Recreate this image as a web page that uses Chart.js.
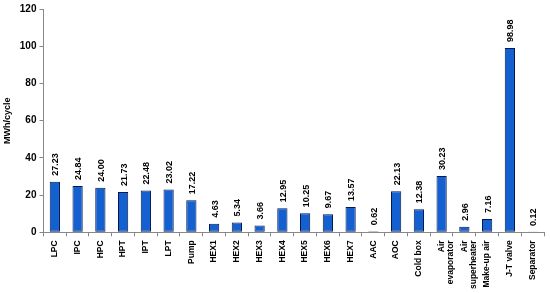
<!DOCTYPE html>
<html>
<head>
<meta charset="utf-8">
<script src="https://cdn.jsdelivr.net/npm/chart.js@4"></script>
<style>
  html, body { margin: 0; padding: 0; background: #fff; }
  #wrap { width: 550px; height: 293px; }
</style>
</head>
<body>
<div id="wrap"><canvas id="barChart"></canvas></div>
<script>
const categories = [
  "LPC", "IPC", "HPC", "HPT", "IPT", "LPT", "Pump",
  "HEX1", "HEX2", "HEX3", "HEX4", "HEX5", "HEX6", "HEX7",
  "AAC", "AOC", "Cold box", ["Air", "evaporator"], ["Air", "superheater"],
  "Make-up air", "J-T valve", "Separator"
];
const exergyValues = [
  27.23, 24.84, 24.00, 21.73, 22.48, 23.02, 17.22,
  4.63, 5.34, 3.66, 12.95, 10.25, 9.67, 13.57,
  0.62, 22.13, 12.38, 30.23, 2.96, 7.16, 98.98, 0.12
];
const yTicks = [0, 20, 40, 60, 80, 100, 120];

// writes the value above each bar, turned on its side
const valueLabels = {
  id: "valueLabels",
  afterDatasetsDraw(chart) {
    const ctx = chart.ctx;
    const meta = chart.getDatasetMeta(0);
    ctx.save();
    ctx.font = "bold 9px 'Liberation Sans', Arial, sans-serif";
    ctx.fillStyle = "#000";
    ctx.textAlign = "left";
    ctx.textBaseline = "middle";
    meta.data.forEach((bar, i) => {
      ctx.save();
      ctx.translate(bar.x + 1, bar.y - 6);
      ctx.rotate(-Math.PI / 2);
      ctx.fillText(exergyValues[i].toFixed(2), 0, 0);
      ctx.restore();
    });
    ctx.restore();
  }
};

const barCtx = document.getElementById("barChart").getContext("2d");

new Chart(barCtx, {
  type: "bar",
  data: {
    labels: categories,
    datasets: [
      {
        label: "MWh/cycle",
        data: exergyValues,
        backgroundColor: "#1560d0",
        borderColor: "#001a50",
        borderWidth: 1,
        borderSkipped: false,
        barPercentage: 0.45,
        categoryPercentage: 1.0,
      },
    ],
  },
  options: {
    responsive: true,
    maintainAspectRatio: false,
    animation: false,
    layout: { padding: { left: 2, right: 6, top: 3, bottom: 0 } },
    plugins: {
      legend: { display: false },
      tooltip: { enabled: false },
    },
    scales: {
      x: {
        grid: {
          offset: true,
          drawOnChartArea: false,
          drawTicks: true,
          tickLength: 4,
          color: "#888",
        },
        border: { color: "#888", width: 1 },
        ticks: {
          autoSkip: false,
          maxRotation: 90,
          minRotation: 90,
          padding: 4,
          color: "#000",
          font: { family: "'Liberation Sans', Arial, sans-serif", size: 8.5, weight: "bold", lineHeight: 1.1 },
        },
      },
      y: {
        min: 0,
        max: 120,
        afterBuildTicks(axis) {
          axis.ticks = yTicks.map((v) => ({ value: v }));
        },
        grid: {
          drawOnChartArea: false,
          drawTicks: true,
          tickLength: 4,
          color: "#888",
        },
        border: { color: "#888", width: 1 },
        title: {
          display: true,
          text: "MWh/cycle",
          color: "#000",
          padding: { top: 0, bottom: 4 },
          font: { family: "'Liberation Sans', Arial, sans-serif", size: 9, weight: "bold" },
        },
        ticks: {
          padding: 3,
          color: "#000",
          font: { family: "'Liberation Sans', Arial, sans-serif", size: 10, weight: "bold" },
        },
      },
    },
  },
  plugins: [valueLabels],
});
</script>
</body>
</html>
